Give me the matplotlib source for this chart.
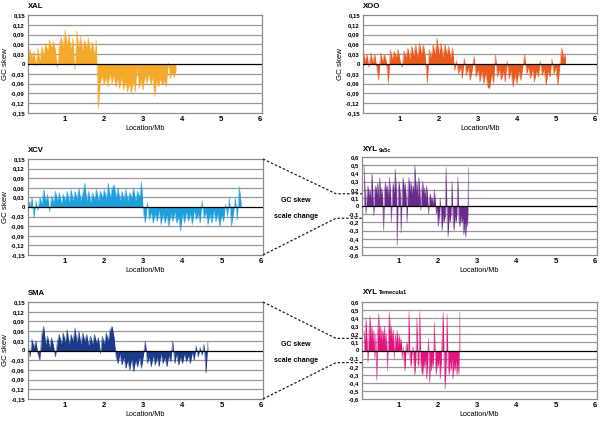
import numpy as np
import matplotlib.pyplot as plt
from matplotlib.lines import Line2D

plt.rcParams['font.family'] = ['Liberation Sans', 'DejaVu Sans']

# GC skew per window (Mb from start, window size)
xal_start, xal_step = 0.05, 0.05
xal_skew = [0.03, 0.045, 0.02, 0.04, -0.005, 0.05, 0.01, 0.055, 0.03, 0.065,
            0.04, 0.075, 0.05, 0.07, 0.045, -0.012, 0.06, 0.085, 0.05, 0.105,
            0.06, 0.09, 0.045, 0.08, -0.02, 0.102, 0.05, 0.085, 0.04, 0.075,
            0.05, 0.08, 0.04, 0.07, 0.03, 0.075, -0.14, -0.06, -0.035, -0.065,
            -0.04, -0.07, -0.03, -0.06, -0.035, -0.07, -0.045, -0.075, -0.04, -0.08,
            -0.05, -0.085, -0.06, -0.09, -0.05, -0.085, -0.01, -0.075, -0.05, -0.08,
            -0.035, -0.06, -0.03, -0.065, -0.04, -0.1, -0.05, -0.07, -0.045, -0.065,
            -0.05, -0.07, 0.005, -0.045, -0.025, -0.04, -0.02]

xoo_start, xoo_step = 0.05, 0.05
xoo_skew = [0.045, 0.01, 0.03, -0.01, 0.035, 0.005, 0.03, -0.01, -0.05, 0.035,
            0.01, 0.03, 0.005, -0.06, 0.045, 0.015, 0.04, 0.02, 0.045, 0.01,
            -0.01, 0.04, 0.02, 0.05, 0.015, 0.055, 0.025, 0.06, 0.02, 0.065,
            0.03, 0.06, 0.02, -0.06, 0.045, 0.02, 0.06, 0.03, 0.08, 0.03,
            0.065, 0.02, 0.06, 0.03, 0.055, 0.02, 0.05, -0.02, 0.01, -0.03,
            -0.01, -0.045, 0.02, -0.035, -0.01, -0.05, -0.02, 0.025, -0.04, -0.015,
            -0.055, -0.02, -0.06, -0.025, -0.07, -0.075, -0.03, -0.06, 0.03, -0.04,
            -0.015, -0.05, -0.02, -0.055, 0.01, -0.045, -0.02, -0.07, -0.03, -0.06,
            -0.02, -0.05, -0.01, 0.03, -0.03, -0.01, -0.045, -0.015, -0.055, -0.02,
            -0.04, 0.01, -0.035, -0.015, -0.065, -0.02, -0.04, 0.015, -0.03, -0.01,
            -0.065, -0.01, 0.05, 0.02, 0.03]

xcv_start, xcv_step = 0.05, 0.05
xcv_skew = [0.025, 0.005, 0.03, -0.035, 0.02, -0.01, 0.03, 0.01, 0.055, 0.02,
            0.04, -0.015, 0.035, 0.015, 0.05, 0.02, 0.045, 0.01, 0.04, 0.02,
            0.05, 0.015, 0.055, 0.02, 0.05, 0.025, 0.06, 0.02, 0.045, 0.075,
            0.02, 0.05, 0.015, 0.045, 0.025, 0.055, 0.02, 0.05, 0.03, 0.055,
            0.025, 0.075, 0.03, 0.06, 0.07, 0.03, 0.06, 0.02, 0.05, 0.025,
            0.055, 0.02, 0.045, 0.03, 0.06, 0.02, 0.05, 0.03, 0.08, -0.02,
            -0.05, 0.015, -0.04, -0.015, -0.05, -0.02, -0.045, -0.01, -0.055, -0.02,
            -0.05, -0.025, -0.06, -0.02, -0.045, -0.015, -0.05, -0.03, -0.075, -0.02,
            -0.05, -0.015, -0.045, -0.02, -0.055, -0.01, -0.04, -0.02, -0.05, 0.02,
            -0.035, -0.015, -0.055, -0.02, -0.05, -0.01, -0.045, -0.02, -0.06, -0.025,
            -0.045, 0.01, -0.03, 0.03, -0.06, -0.02, 0.03, -0.04, 0.065, 0.01]

sma_start, sma_step = 0.05, 0.05
sma_skew = [0.02, -0.02, 0.035, 0.01, 0.03, -0.01, -0.03, 0.05, 0.075, 0.02,
            0.045, 0.01, 0.04, 0.015, -0.02, 0.03, 0.05, 0.02, 0.055, 0.025,
            0.065, 0.02, 0.05, 0.03, 0.07, 0.025, 0.06, 0.02, 0.055, 0.03,
            0.05, 0.015, 0.045, 0.02, 0.05, 0.025, 0.04, -0.01, 0.045, 0.02,
            0.055, 0.03, 0.065, 0.075, 0.04, -0.02, -0.04, -0.01, -0.045, -0.02,
            -0.055, -0.03, -0.06, -0.025, -0.065, -0.03, -0.05, -0.02, -0.055, -0.015,
            0.03, -0.04, -0.02, -0.05, -0.015, -0.045, -0.02, -0.05, -0.01, -0.04,
            -0.02, -0.05, -0.015, -0.035, 0.03, -0.04, -0.01, -0.045, -0.02, -0.04,
            -0.01, -0.035, -0.015, -0.04, -0.005, -0.03, 0.015, -0.02, 0.01, -0.015,
            0.02, -0.07, 0.025]

xyl9a5c_start, xyl9a5c_step = 0.1, 0.025
xyl9a5c_skew = [0.5, 0.2, -0.1, 0.15, 0.25, 0.12, 0.2, 0.1,
                0.4, 0.18, -0.12, 0.2, 0.25, 0.15, 0.28, 0.1,
                0.35, 0.15, 0.22, 0.1, -0.3, 0.2, 0.3, 0.15,
                0.25, 0.1, 0.35, 0.18, -0.2, 0.2, 0.28, 0.15,
                0.45, 0.2, -0.48, 0.22, 0.3, 0.15, -0.33, 0.2,
                0.35, 0.2, 0.28, 0.12, -0.2, 0.22, 0.35, 0.18,
                0.3, 0.15, 0.25, 0.2, 0.5, 0.18, 0.3, 0.12,
                0.35, 0.2, -0.05, 0.18, 0.3, 0.15, 0.22, 0.1,
                0.25, 0.12, -0.1, 0.1, 0.15, 0.05, 0.1, 0.02,
                0.2, 0.05, -0.1, -0.05, -0.25, -0.12, 0.1, -0.15,
                -0.3, -0.1, -0.2, -0.12, 0.47, -0.15, -0.38, -0.12,
                -0.2, -0.1, 0.3, -0.15, -0.3, -0.12, -0.2, -0.1,
                0.35, -0.15, -0.25, -0.12, -0.2, -0.15, -0.35, -0.2,
                -0.38, -0.15, -0.25, 0.47]

xyltem_start, xyltem_step = 0.1, 0.025
xyltem_skew = [0.25, 0.12, 0.4, 0.15, -0.15, 0.2, 0.43, 0.15,
               0.3, 0.12, 0.25, -0.1, 0.2, -0.37, 0.22, 0.45,
               0.15, 0.3, 0.12, 0.25, 0.15, 0.3, 0.05, 0.2,
               -0.25, 0.2, 0.48, 0.15, 0.3, 0.12, 0.25, -0.1,
               0.2, 0.1, 0.25, 0.05, 0.2, 0.08, 0.15, -0.1,
               0.05, -0.15, -0.25, 0.05, 0.1, -0.05, 0.48, -0.1,
               -0.2, -0.05, 0.05, -0.15, -0.3, -0.12, 0.4, -0.15,
               -0.2, 0.48, -0.15, -0.25, -0.3, -0.12, -0.2, -0.1,
               -0.35, -0.15, 0.15, -0.4, -0.15, -0.25, -0.1, -0.2,
               0.35, -0.15, -0.3, -0.12, -0.2, -0.1, -0.35, -0.15,
               0.2, 0.47, -0.2, -0.48, -0.15, 0.45, -0.2, -0.3,
               -0.12, -0.25, -0.1, -0.35, -0.15, -0.25, -0.12, -0.3,
               -0.15, -0.3, 0.47]

W, H = 600, 421
fig = plt.figure(figsize=(6, 4.21), dpi=100)


def add_ax(left, top, right, bottom):
    return fig.add_axes([left / W, 1 - bottom / H, (right - left) / W, (bottom - top) / H])


def fmt(t, dec):
    if abs(t) < 1e-9:
        return '0'
    return f'{t:.{dec}f}'.replace('.', ',')


def panel(ax, start, step, skew, color, lim, ystep, ylabel=True):
    x = start + step * np.arange(len(skew))
    ax.fill_between(x, 0, skew, color=color, lw=0, zorder=2)
    ax.plot(x, skew, color=color, lw=0.5, alpha=0.6, zorder=2)
    ticks = np.round(np.arange(-lim, lim + ystep / 2, ystep), 2)
    for t in ticks[1:-1]:
        if abs(t) > 1e-9:
            ax.axhline(t, color='#999999', lw=0.9, zorder=1)
    ax.axhline(0, color='black', lw=0.9, zorder=3)
    ax.set_xlim(0.05, 6.06)
    ax.set_ylim(-lim, lim)
    dec = 2 if lim < 0.3 else 1
    ax.set_yticks(ticks)
    ax.set_yticklabels([fmt(t, dec) for t in ticks], fontsize=4.3, fontweight='bold')
    ax.set_xticks([1, 2, 3, 4, 5, 6])
    ax.set_xticklabels(['1', '2', '3', '4', '5', '6'], fontsize=5.5, fontweight='bold')
    ax.tick_params(length=0, pad=2.2)
    ax.set_xlabel('Location/Mb', fontsize=5.2, labelpad=1.5)
    if ylabel:
        ax.set_ylabel('GC skew', fontsize=5.7)
        ax.yaxis.set_label_coords(-0.08, 0.5)
    for s in ax.spines.values():
        s.set_color('#8c8c8c')
        s.set_linewidth(0.9)


ax_xal = add_ax(28, 15, 262, 113)
ax_xoo = add_ax(363, 15, 597, 113)
ax_xcv = add_ax(28, 159, 263, 255)
ax_x9 = add_ax(362, 157, 597, 255)
ax_sma = add_ax(28, 302, 263, 399)
ax_xt = add_ax(362, 302, 597, 399)

panel(ax_xal, xal_start, xal_step, xal_skew, '#F4A92B', 0.15, 0.03)
panel(ax_xoo, xoo_start, xoo_step, xoo_skew, '#E85A1E', 0.15, 0.03)
panel(ax_xcv, xcv_start, xcv_step, xcv_skew, '#1E9FDB', 0.15, 0.03)
panel(ax_sma, sma_start, sma_step, sma_skew, '#1A3A8A', 0.15, 0.03)
panel(ax_x9, xyl9a5c_start, xyl9a5c_step, xyl9a5c_skew, '#6A2C8C', 0.6, 0.1, ylabel=False)
panel(ax_xt, xyltem_start, xyltem_step, xyltem_skew, '#E2157F', 0.6, 0.1, ylabel=False)

# panel titles
renderer = fig.canvas.get_renderer()
to_fig = fig.transFigure.inverted()
titles = [(28, 8, 'XAL', ''), (363, 8, 'XOO', ''), (28, 152, 'XCV', ''),
          (28, 295, 'SMA', ''), (363, 151, 'XYL', '9a5c'), (363, 294, 'XYL', 'Temecula1')]
for tx, ty, main, sub in titles:
    t = fig.text(tx / W, 1 - ty / H, main, fontsize=5.6, fontweight='bold', va='baseline')
    if sub:
        bb = t.get_window_extent(renderer)
        fig.text(bb.x1 / W + 0.5 / W, 1 - (ty + 0.5) / H, sub, fontsize=4,
                 fontweight='bold', va='baseline')

# dashed "scale change" connectors between the small-scale and large-scale panels
for src, dst in [(ax_xcv, ax_x9), (ax_sma, ax_xt)]:
    for ya, yd in [(1, 0.15), (0, -0.15)]:
        p0 = src.transAxes.transform((1, ya))
        p2 = dst.transData.transform((dst.get_xlim()[0], yd))
        p1 = (p2[0] - 26, p2[1])
        pts = to_fig.transform([p0, p1, p2])
        fig.add_artist(Line2D(pts[:, 0], pts[:, 1], color='#222222', lw=0.9,
                              ls=(0, (2, 1.5)), transform=fig.transFigure))
    zero = dst.transData.transform((0, 0))[1]
    xc = 296
    fig.text(xc / W, (zero + 6) / H, 'GC skew', fontsize=5, fontweight='bold',
             ha='center', va='center')
    fig.text(xc / W, (zero - 10) / H, 'scale change', fontsize=5, fontweight='bold',
             ha='center', va='center')

fig.savefig('out.png', dpi=100)
